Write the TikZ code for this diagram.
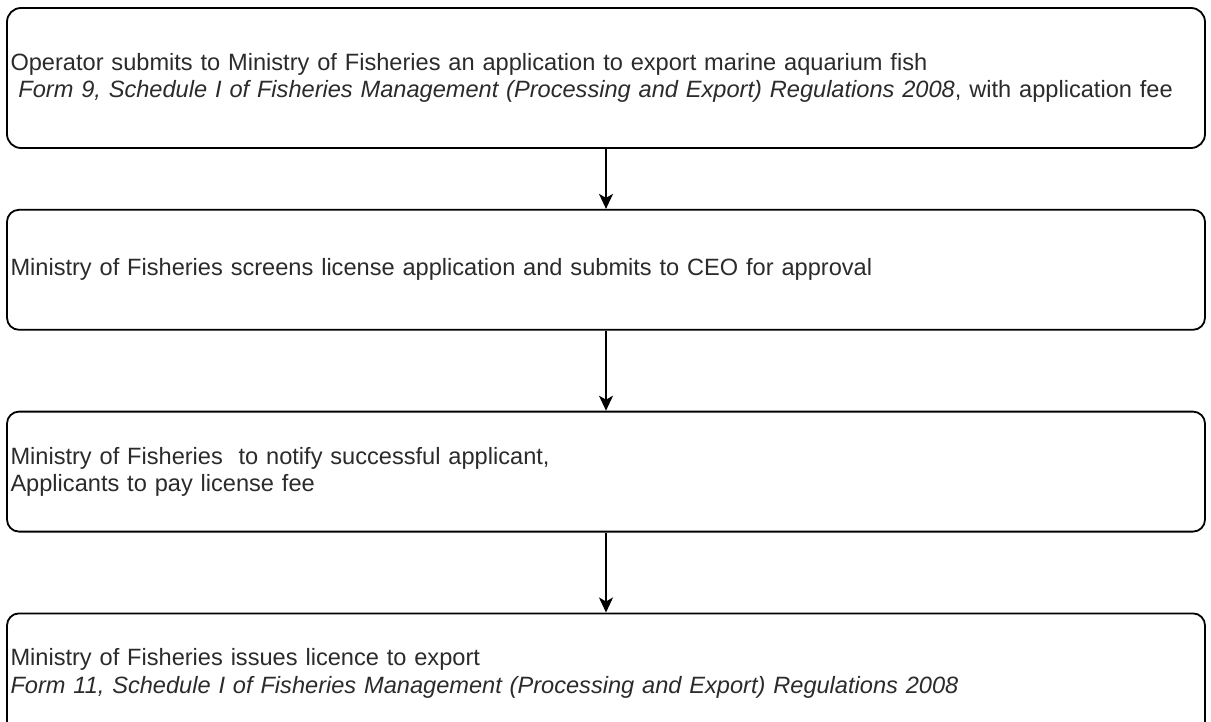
\documentclass[tikz,border=0pt]{standalone}
\usepackage{fontspec}
\setmainfont{Liberation Sans}
\usetikzlibrary{arrows.meta, positioning}
\definecolor{inkgray}{HTML}{2B2B2B}
\tikzset{
  stepbox/.style={rectangle, rounded corners=#1, draw=black, line width=1.8pt,
                  fill=white, text width=1191pt, inner xsep=3.5pt, inner ysep=0pt,
                  align=left, text=inkgray,
                  font=\fontsize{23.6}{27.2}\selectfont},
  stepbox/.default=12pt,
  arr/.style={-{Stealth[length=15pt, width=14pt, inset=4pt]}, line width=1.6pt, #1},
  arr/.default=black,
}
\begin{document}
\begin{tikzpicture}[x=1pt, y=1pt, node distance=80pt]
\useasboundingbox (0,0) rectangle (1211,-722);
\node[stepbox=14pt, minimum height=140pt] (submit) at (606,-78)
  {Operator submits to Ministry of Fisheries an application to export marine aquarium fish\\
   \ \textit{Form 9, Schedule I of Fisheries Management (Processing and Export) Regulations 2008}, with application fee};
\node[stepbox, minimum height=120pt, below=60pt of submit] (screen)
  {Ministry of Fisheries screens license application and submits to CEO for approval};
\node[stepbox, minimum height=120pt, below=of screen] (notify)
  {Ministry of Fisheries\ \ to notify successful applicant,\\
   Applicants to pay license fee};
\node[stepbox, minimum height=120pt, below=of notify] (issue)
  {Ministry of Fisheries issues licence to export\\
   \textit{Form 11, Schedule I of Fisheries Management (Processing and Export) Regulations 2008}};
% connectors
\draw[arr] (submit) -- (screen);
\draw[arr] (screen) -- (notify);
\draw[arr] (notify) -- (issue);
\end{tikzpicture}
\end{document}
